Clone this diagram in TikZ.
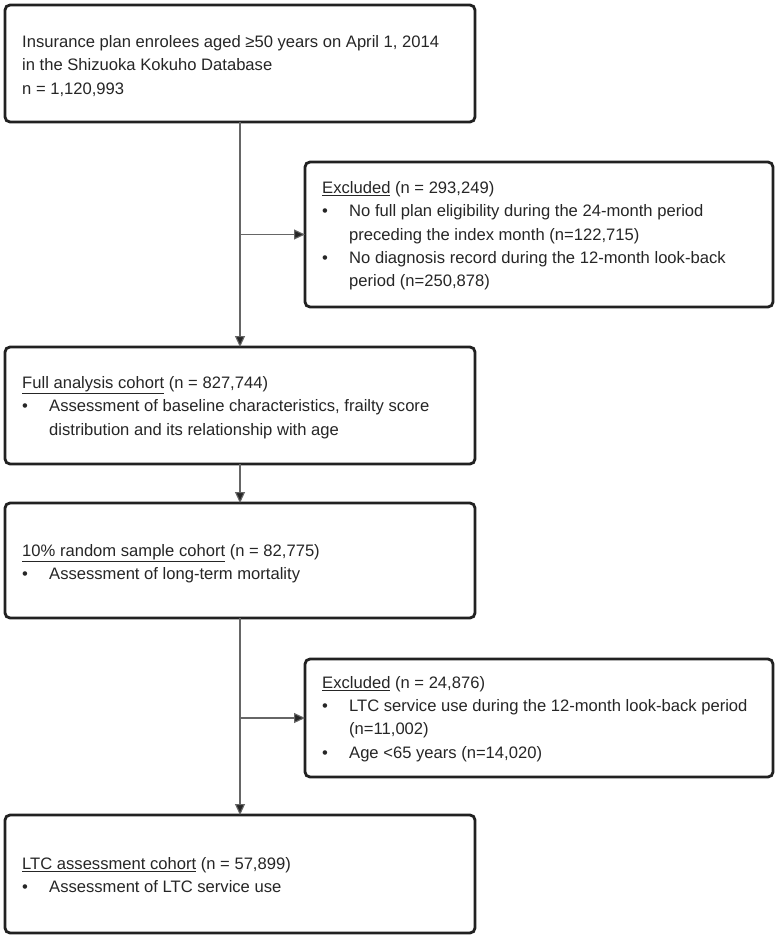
\documentclass[tikz,border=0pt]{standalone}
\usepackage{fontspec}
\setmainfont{Liberation Sans}
\usetikzlibrary{arrows.meta,calc}
\newcommand{\bulx}{\makebox[27pt][l]{\textbullet}}
\newcommand{\indx}{\hspace*{27pt}}
\begin{document}
\begin{tikzpicture}[x=1pt,y=-1pt,
  box/.style={draw=black!87,line width=2.8pt,rounded corners=5pt,fill=white,inner sep=0pt,outer sep=0pt},
  txt/.style={anchor=west,align=left,inner sep=0pt,font=\fontsize{16.6}{23.3}\selectfont,text=black!85},
  conn/.style={draw=black!60,line width=1.1pt},
  arr/.style={conn,-{Triangle[length=11pt,width=10pt,fill=black!85]}}]
\useasboundingbox (0,0) rectangle (778,939);
% boxes
\node[box,anchor=north west,minimum width=470pt,minimum height=117pt] (b1) at (5,5) {};
\node[box,anchor=north west,minimum width=468pt,minimum height=145pt] (e1) at (305,162) {};
\node[box,anchor=north west,minimum width=470pt,minimum height=117pt] (b2) at (5,347) {};
\node[box,anchor=north west,minimum width=470pt,minimum height=115pt] (b3) at (5,503) {};
\node[box,anchor=north west,minimum width=468pt,minimum height=118pt] (e2) at (305,659) {};
\node[box,anchor=north west,minimum width=470pt,minimum height=118pt] (b4) at (5,815) {};
% texts
\node[txt] (t1) at ([xshift=17pt,yshift=-2.5pt]b1.west) {Insurance plan enrolees aged ≥50 years on April 1, 2014\\in the Shizuoka Kokuho Database\\n = 1,120,993};
\node[txt] (te1) at ([xshift=17pt,yshift=-1.5pt]e1.west) {\underline{Excluded} (n = 293,249)\\
\bulx No full plan eligibility during the 24-month period\\
\indx preceding the index month (n=122,715)\\
\bulx No diagnosis record during the 12-month look-back\\
\indx period (n=250,878)};
\node[txt] (t2) at ([xshift=17pt,yshift=-2pt]b2.west) {\underline{Full analysis cohort} (n = 827,744)\\
\bulx Assessment of baseline characteristics, frailty score\\
\indx distribution and its relationship with age};
\node[txt] (t3) at ([xshift=17pt,yshift=-3.5pt]b3.west) {\underline{10\% random sample cohort} (n = 82,775)\\
\bulx Assessment of long-term mortality};
\node[txt] (te2) at ([xshift=17pt,yshift=-1pt]e2.west) {\underline{Excluded} (n = 24,876)\\
\bulx LTC service use during the 12-month look-back period\\
\indx (n=11,002)\\
\bulx Age <65 years (n=14,020)};
\node[txt] (t4) at ([xshift=17pt,yshift=-1pt]b4.west) {\underline{LTC assessment cohort} (n = 57,899)\\
\bulx Assessment of LTC service use};
% connectors
\coordinate (j1) at (b1.south |- e1.west);
\coordinate (j2) at (b3.south |- e2.west);
\draw[arr] (b1.south) -- (b2.north);
\draw[arr] (j1) -- (e1.west);
\draw[arr] (b2.south) -- (b3.north);
\draw[arr] (b3.south) -- (b4.north);
\draw[arr] (j2) -- (e2.west);
\end{tikzpicture}
\end{document}
